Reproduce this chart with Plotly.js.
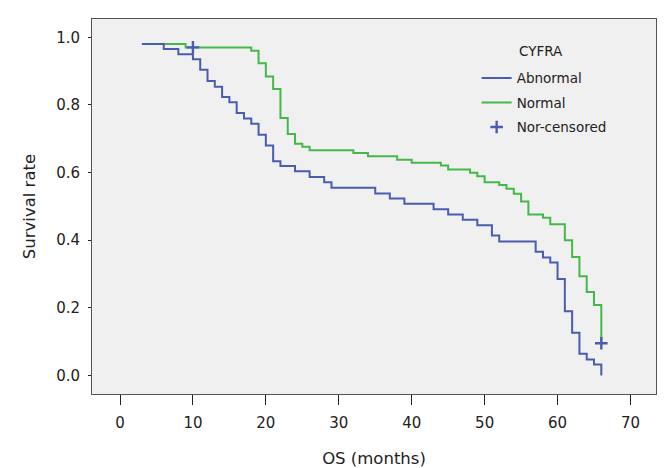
<!DOCTYPE html>
<html>
<head>
<meta charset="utf-8">
<script src="https://cdn.plot.ly/plotly-3.0.1.min.js"></script>
<style>html,body{margin:0;padding:0;background:#fff;}#chart{width:664px;height:468px;}</style>
</head>
<body>
<div id="chart"></div>
<script>
// Abnormal CYFRA group (blue)
const abnormalTime = [3, 6, 8, 10, 11, 12, 13, 14, 15, 16, 17, 18, 19, 20, 21, 22, 24, 26, 28, 29, 35, 37, 39, 43, 45, 47, 49, 51, 52, 57, 58, 59, 60, 61, 62, 63, 64, 65, 66];
const abnormalSurv = [0.98, 0.965, 0.95, 0.935, 0.904, 0.871, 0.854, 0.823, 0.808, 0.776, 0.76, 0.744, 0.712, 0.68, 0.633, 0.619, 0.604, 0.587, 0.571, 0.555, 0.538, 0.523, 0.508, 0.491, 0.476, 0.46, 0.444, 0.414, 0.396, 0.366, 0.349, 0.334, 0.285, 0.19, 0.126, 0.064, 0.047, 0.032, 0.0];
// Normal CYFRA group (green)
const normalTime = [3, 9, 18, 19, 20, 21, 22, 23, 24, 25, 26, 32, 34, 38, 40, 44, 45, 48, 49, 50, 52, 53, 54, 55, 56, 58, 59, 61, 62, 63, 64, 65, 66];
const normalSurv = [0.98, 0.97, 0.96, 0.923, 0.884, 0.847, 0.761, 0.714, 0.685, 0.676, 0.666, 0.658, 0.648, 0.638, 0.629, 0.621, 0.609, 0.599, 0.589, 0.571, 0.563, 0.552, 0.537, 0.514, 0.476, 0.466, 0.447, 0.40, 0.35, 0.293, 0.247, 0.208, 0.095];
// Censored observations
const censorTime = [10, 66];
const censorSurv = [0.97, 0.095];

const xTicks = [0, 10, 20, 30, 40, 50, 60, 70];
const yTicks = [0.0, 0.2, 0.4, 0.6, 0.8, 1.0];
const yTickText = ['0.0', '0.2', '0.4', '0.6', '0.8', '1.0'];

const BLUE = '#4a5cb0';
const GREEN = '#45b84a';
const FONT = 'DejaVu Sans, Verdana, sans-serif';

const traces = [
  {x: normalTime, y: normalSurv, mode: 'lines', line: {shape: 'hv', color: GREEN, width: 2},
   name: 'Normal', legendgroup: 'b', legendrank: 2, hoverinfo: 'skip'},
  {x: abnormalTime, y: abnormalSurv, mode: 'lines', line: {shape: 'hv', color: BLUE, width: 2},
   name: 'Abnormal', legendgroup: 'a', legendrank: 1, hoverinfo: 'skip'},
  {x: censorTime, y: censorSurv, mode: 'markers',
   marker: {symbol: 'cross-thin', size: 9, color: BLUE, line: {color: BLUE, width: 2.4}},
   name: 'Nor-censored', legendgroup: 'c', legendrank: 3, hoverinfo: 'skip'}
];

const yRange = [-0.055, 1.054];
const layout = {
  width: 664, height: 468,
  margin: {l: 92, r: 8, t: 19, b: 74},
  paper_bgcolor: '#ffffff',
  plot_bgcolor: '#f0f0f0',
  font: {family: FONT, size: 15, color: '#222'},
  showlegend: true,
  legend: {x: 0.682, y: 0.8835, xanchor: 'left', yanchor: 'top', bgcolor: 'rgba(0,0,0,0)',
           traceorder: 'grouped', tracegroupgap: 4,
           font: {family: FONT, size: 13.5, color: '#222'}},
  xaxis: {range: [-3.84, 73.5], tickvals: xTicks, ticktext: xTicks.map(String), ticks: 'outside', ticklen: 10,
          tickcolor: '#222', showgrid: false, zeroline: false, showline: true, mirror: true,
          linecolor: '#555', linewidth: 1, ticklabelstandoff: 5,
          tickfont: {family: FONT, size: 15, color: '#222'},
          title: {text: 'OS (months)', font: {family: FONT, size: 16.5, color: '#222'}, standoff: 21}},
  yaxis: {range: yRange, tickvals: yTicks, ticktext: yTickText, ticks: 'outside', ticklen: 3,
          tickcolor: '#222', showgrid: false, zeroline: false, showline: true, mirror: true,
          linecolor: '#555', linewidth: 1, ticklabelstandoff: 5,
          tickfont: {family: FONT, size: 15, color: '#222'},
          title: {text: 'Survival rate', font: {family: FONT, size: 16.5, color: '#222'}, standoff: 16}},
  yaxis2: {range: yRange, overlaying: 'y', side: 'left', anchor: 'x', tickvals: yTicks, ticks: 'inside', ticklen: 5,
           tickcolor: '#222', showticklabels: false, showgrid: false, zeroline: false, showline: false},
  annotations: [
    {xref: 'paper', yref: 'paper', x: 0.753, y: 0.915, xanchor: 'left', yanchor: 'middle', showarrow: false,
     text: 'CYFRA', font: {family: FONT, size: 13.5, color: '#222'}}
  ]
};

Plotly.newPlot('chart', traces, layout, {displayModeBar: false, staticPlot: true});
</script>
</body>
</html>
